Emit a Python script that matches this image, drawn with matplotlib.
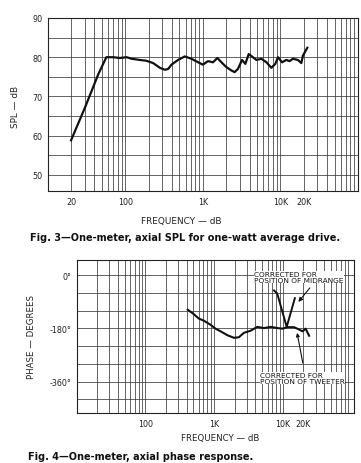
import numpy as np
import matplotlib
matplotlib.use("Agg")
import matplotlib.pyplot as plt
from matplotlib.ticker import FixedLocator, NullFormatter, LogLocator

# Fig. 3 - SPL response
spl_freq = [20, 30, 45, 57, 70, 85, 104, 121, 154, 187, 229, 279, 324, 357, 394,
            479, 585, 713, 870, 1000, 1166, 1350, 1540, 1738, 2000, 2340, 2570,
            2830, 3200, 3530, 3900, 4420, 4900, 5680, 6600, 7640, 8600, 9300,
            10500, 11900, 13100, 14500, 16800, 18600, 19500, 22200]
spl_db = [58.8, 67.0, 75.7, 80.0, 80.0, 79.8, 80.0, 79.6, 79.3, 79.1, 78.5, 77.3,
          76.8, 77.0, 78.1, 79.3, 80.2, 79.6, 78.7, 78.1, 79.0, 78.7, 79.8, 78.7,
          77.5, 76.6, 76.2, 77.0, 79.3, 78.3, 80.8, 80.0, 79.3, 79.6, 78.7, 77.3,
          78.3, 80.0, 78.7, 79.3, 79.0, 79.6, 79.3, 78.5, 80.4, 82.4]

# Fig. 4 - phase response
phase_freq = [414, 507, 600, 710, 890, 1050, 1244, 1556, 1950, 2300, 2720, 3400,
              4250, 5330, 6680, 8340, 9900, 11700, 14600, 17300, 19400, 21500, 24200]
phase_deg = [-117, -132, -147, -154, -168, -181, -190, -203, -212, -210, -195, -188,
             -175, -179, -175, -179, -181, -176, -176, -184, -190, -181, -205]
mid_freq = [7460, 8300, 11400, 15000]
mid_deg = [-52, -62, -175, -78]

spl_ticks = [20, 100, 1000, 10000, 20000]
spl_ticklabels = ['20', '100', '1K', '10K', '20K']
phase_ticks = [100, 1000, 10000, 20000]
phase_ticklabels = ['100', '1K', '10K', '20K']

W, H = 361, 464
fig = plt.figure(figsize=(W / 100, H / 100), dpi=100)
fig.patch.set_facecolor('white')

grid_kw = dict(color='#3a3a3a', linewidth=0.55)


def setup(ax, xlim, ylim):
    ax.set_xscale('log')
    ax.set_xlim(*xlim)
    ax.set_ylim(*ylim)
    ax.xaxis.set_minor_locator(LogLocator(base=10, subs=np.arange(2, 10)))
    ax.xaxis.set_minor_formatter(NullFormatter())
    ax.grid(True, which='both', axis='x', **grid_kw)
    ax.grid(True, which='both', axis='y', **grid_kw)
    ax.tick_params(which='both', length=0, labelsize=5.8, pad=4, colors='#222')
    for s in ax.spines.values():
        s.set_linewidth(0.8)
        s.set_color('#222')


# top chart
ax1 = fig.add_axes([47.7 / W, 1 - 192.3 / H, (358 - 47.7) / W, (192.3 - 19) / H])
setup(ax1, (10, 100000), (45.8, 90))
ax1.set_yticks([50, 60, 70, 80, 90])
ax1.yaxis.set_minor_locator(FixedLocator([55, 65, 75, 85]))
ax1.set_xticks(spl_ticks)
ax1.set_xticklabels(spl_ticklabels)
ax1.plot(spl_freq, spl_db, color='#111', linewidth=1.6, solid_joinstyle='round')
fig.text(16 / W, 1 - 107 / H, 'SPL — dB', rotation=90, ha='center', va='center',
         fontsize=6.4, color='#222')
fig.text(181 / W, 1 - 222 / H, 'FREQUENCY — dB', ha='center', va='center',
         fontsize=6.4, color='#222')
fig.text(30 / W, 1 - 238 / H, 'Fig. 3—One-meter, axial SPL for one-watt average drive.',
         ha='left', va='center', fontsize=7, fontweight='bold', color='#111')

# bottom chart
ax2 = fig.add_axes([76.7 / W, 1 - 414.3 / H, (354.3 - 76.7) / W, (414.3 - 260.7) / H])
setup(ax2, (10, 110000), (-467, 52))
ax2.set_yticks([0, -180, -360])
ax2.set_yticklabels(['0°', '-180°', '-360°'])
ax2.yaxis.set_minor_locator(FixedLocator([-60, -120, -240, -300, -420]))
ax2.set_xticks(phase_ticks)
ax2.set_xticklabels(phase_ticklabels)
ax2.plot(phase_freq, phase_deg, color='#111', linewidth=1.5, solid_joinstyle='round')
ax2.plot(mid_freq, mid_deg, color='#111', linewidth=1.4, solid_joinstyle='round')

ax2.annotate('', xy=(15900, -98), xytext=(26300, -36),
             arrowprops=dict(arrowstyle='-|>', color='#111', lw=0.8,
                             mutation_scale=6))
ax2.annotate('', xy=(15900, -186), xytext=(19900, -306),
             arrowprops=dict(arrowstyle='-|>', color='#111', lw=0.8,
                             mutation_scale=5))
ax2.text(3800, -7, 'CORRECTED FOR\nPOSITION OF MIDRANGE', fontsize=5.3,
         ha='left', va='center', linespacing=0.95, color='#111',
         bbox=dict(facecolor='white', edgecolor='none', pad=0.2))
ax2.text(4660, -348, 'CORRECTED FOR\nPOSITION OF TWEETER', fontsize=5.3,
         ha='left', va='center', linespacing=0.95, color='#111',
         bbox=dict(facecolor='white', edgecolor='none', pad=0.2))

fig.text(32 / W, 1 - 337 / H, 'PHASE — DEGREES', rotation=90, ha='center',
         va='center', fontsize=6.2, color='#222')
fig.text(220 / W, 1 - 439 / H, 'FREQUENCY — dB', ha='center', va='center',
         fontsize=6.2, color='#222')
fig.text(28 / W, 1 - 457 / H, 'Fig. 4—One-meter, axial phase response.',
         ha='left', va='center', fontsize=7, fontweight='bold', color='#111')

fig.savefig('out.png', dpi=100)
